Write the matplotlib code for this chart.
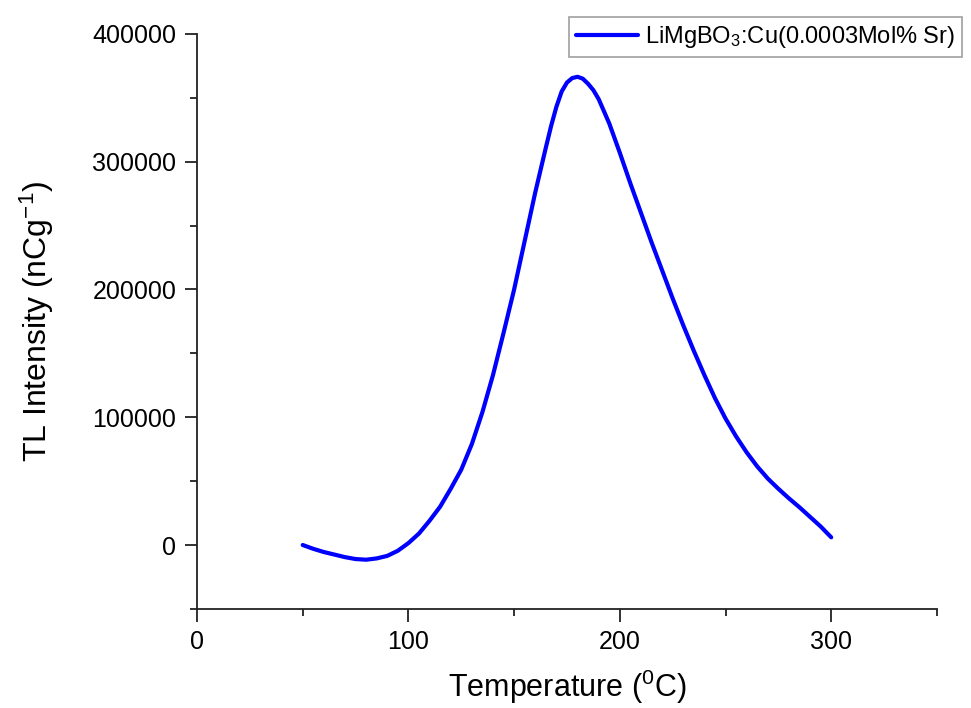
import matplotlib
matplotlib.use("Agg")
import matplotlib.pyplot as plt
from matplotlib.ticker import MultipleLocator

plt.rcParams['font.family'] = ['Liberation Sans', 'DejaVu Sans']
plt.rcParams['mathtext.fontset'] = 'custom'
plt.rcParams['mathtext.rm'] = 'Liberation Sans'
plt.rcParams['mathtext.it'] = 'Liberation Sans:italic'

temperature = [50, 55, 60, 65, 70, 75, 80, 85, 90, 95, 100, 105, 110, 115, 120,
               125, 130, 135, 140, 145, 150, 155, 160, 165, 167.5, 170, 172.5,
               175, 177.5, 180, 182.5, 185, 187.5, 190, 195, 200, 205, 210, 215,
               220, 225, 230, 235, 240, 245, 250, 255, 260, 265, 270, 275, 280,
               285, 290, 295, 300]
intensity = [0, -3000, -5500, -7500, -9500, -11000, -11500, -10500, -8500, -4500,
             1500, 9000, 19000, 30000, 44000, 59000, 79000, 104000, 133000,
             166000, 200000, 238000, 276000, 311000, 328000, 343000, 355000,
             362000, 365500, 366500, 365000, 361000, 356000, 349000, 330000,
             307000, 283000, 260000, 237000, 215000, 193000, 172000, 152000,
             133000, 115000, 99000, 85000, 72500, 61500, 52000, 44000, 36500,
             29500, 22000, 14500, 6000]
series_label = r'LiMgBO$_3$:Cu(0.0003Mol% Sr)'

fig = plt.figure(figsize=(9.71, 7.08), dpi=100)
ax = fig.add_axes([0.2029, 0.140, 0.762, 0.812])
ax.plot(temperature, intensity, color='#0000ff', lw=3.0, label=series_label,
        solid_capstyle='round', solid_joinstyle='round')

ax.set_xlim(0, 350)
ax.set_ylim(-50000, 400000)
ax.xaxis.set_major_locator(MultipleLocator(100))
ax.xaxis.set_minor_locator(MultipleLocator(50))
ax.yaxis.set_major_locator(MultipleLocator(100000))
ax.yaxis.set_minor_locator(MultipleLocator(50000))

for s in ['top', 'right']:
    ax.spines[s].set_visible(False)
for s in ['left', 'bottom']:
    ax.spines[s].set_linewidth(1.3)
    ax.spines[s].set_color('#222222')

ax.tick_params(which='major', direction='out', length=9, width=1.3,
               labelsize=18, colors='#222222', labelcolor='black', pad=6)
ax.tick_params(which='minor', direction='out', length=5, width=1.3,
               colors='#222222')

ax.set_xlabel(r'Temperature ($^{0}$C)', fontsize=22, labelpad=10)
ax.set_ylabel(r'TL Intensity (nCg$^{-1}$)', fontsize=23, labelpad=26)

leg = ax.legend(loc='upper right', bbox_to_anchor=(1.034, 1.03), fontsize=17,
                frameon=True, fancybox=False, handlelength=2.6,
                borderpad=0.3, handletextpad=0.3, borderaxespad=0.0)
leg.get_frame().set_edgecolor('#888888')
leg.get_frame().set_linewidth(1.2)

fig.savefig('out.png', dpi=100)
